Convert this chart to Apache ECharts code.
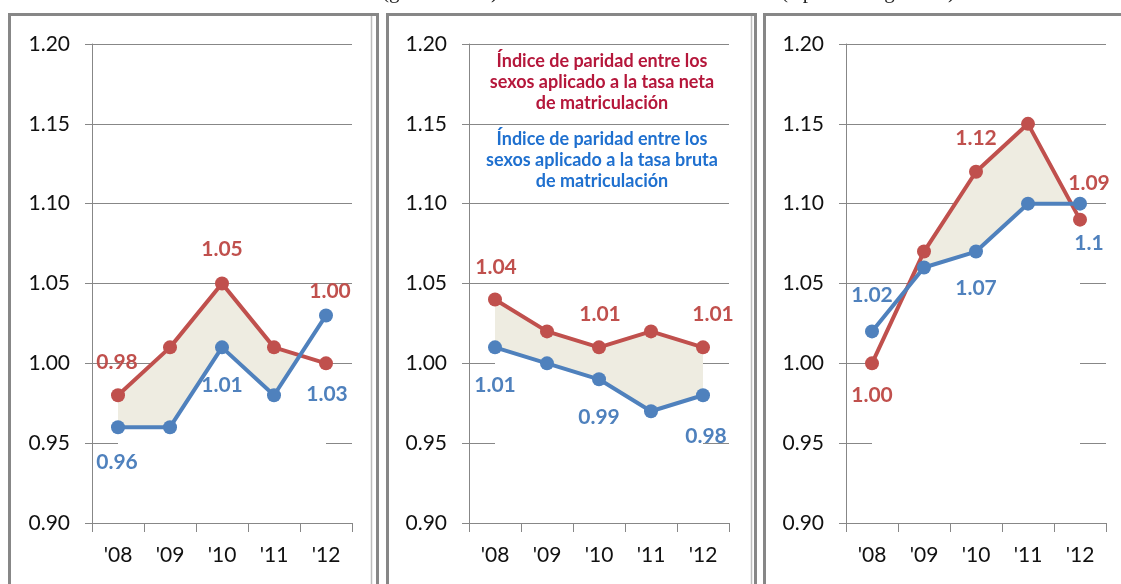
<!DOCTYPE html>
<html lang="es">
<head>
    <meta charset="UTF-8">
    <title>Índice de paridad</title>
    <style>
        html,body{margin:0;padding:0;background:#fff;}
        #mychart{width:1121px;height:584px;}
    </style>
</head>
<body>
    <div id="mychart"></div>
    <script src="https://cdn.jsdelivr.net/npm/echarts@6/dist/echarts.min.js"></script>
    <script>
        var years=["'08","'09","'10","'11","'12"]
        var yTicks=[0.90,0.95,1.00,1.05,1.10,1.15,1.20]
        // tasa neta (rojo) y tasa bruta (azul), un par por panel
        var netaA=[0.98,1.01,1.05,1.01,1.00]
        var brutaA=[0.96,0.96,1.01,0.98,1.03]
        var netaB=[1.04,1.02,1.01,1.02,1.01]
        var brutaB=[1.01,1.00,0.99,0.97,0.98]
        var netaC=[1.00,1.07,1.12,1.15,1.09]
        var brutaC=[1.02,1.06,1.07,1.10,1.10]
        // textos de las etiquetas tal como salen en la figura
        var netaLabA=['0.98','','1.05','','1.00']
        var brutaLabA=['0.96','','1.01','','1.03']
        var netaLabB=['1.04','','1.01','','1.01']
        var brutaLabB=['1.01','','0.99','','0.98']
        var netaLabC=['1.00','','1.12','','1.09']
        var brutaLabC=['1.02','','1.07','','1.1']
        var legendNeta='Índice de paridad entre los\nsexos aplicado a la tasa neta\nde matriculación'
        var legendBruta='Índice de paridad entre los\nsexos aplicado a la tasa bruta\nde matriculación'
        var titleB='(grados 1 a 6)'
        var titleC='(a partir del grado 7)'

        var RED='#C0504D', BLUE='#4F81BD', FILL='#EEECE1', GRID='#878787'
        var FONT='Lato'

        // desplazamiento de cada etiqueta respecto a su punto (px)
        var offNeta=[
            [[-1,-33],null,[0,-34],null,[4,-72]],
            [[1,-32],null,[1,-33],null,[10,-33]],
            [[0,32],null,[0,-33],null,[9,-36]]
        ]
        var offBruta=[
            [[-1,35],null,[0,38],null,[1,79]],
            [[0,38],null,[0,38],null,[3,41]],
            [[0,-36],null,[0,37],null,[9,40]]
        ]

        var panels=[
            {neta:netaA,bruta:brutaA,ln:netaLabA,lb:brutaLabA,left:92},
            {neta:netaB,bruta:brutaB,ln:netaLabB,lb:brutaLabB,left:469},
            {neta:netaC,bruta:brutaC,ln:netaLabC,lb:brutaLabC,left:846}
        ]

        var myChart=echarts.init(document.getElementById('mychart'))

        function labeled(vals,texts,offs,color){
            return vals.map(function(v,i){
                if(!texts[i]) return {value:v,label:{show:false}}
                return {value:v,label:{show:true,position:'inside',formatter:texts[i],offset:offs[i],
                    color:color,fontFamily:FONT,fontWeight:'bold',fontSize:21}}
            })
        }

        function gapItem(params,api){//relleno solo donde la neta va por encima de la bruta
            var i=api.value(0)
            var r0=api.coord([i,api.value(1)]), b0=api.coord([i,api.value(2)])
            var r1=api.coord([i+1,api.value(3)]), b1=api.coord([i+1,api.value(4)])
            var d0=b0[1]-r0[1], d1=b1[1]-r1[1]
            var pts=null
            if(d0>=0&&d1>=0){
                pts=[r0,r1,b1,b0]
            }else if(d0>=0&&d1<0){
                var t=d0/(d0-d1)
                pts=[r0,[r0[0]+t*(r1[0]-r0[0]),r0[1]+t*(r1[1]-r0[1])],b0]
            }else if(d0<0&&d1>=0){
                var t2=d0/(d0-d1)
                pts=[[r0[0]+t2*(r1[0]-r0[0]),r0[1]+t2*(r1[1]-r0[1])],r1,b1]
            }
            if(!pts) return null
            return {type:'polygon',shape:{points:pts},style:{fill:FILL}}
        }

        var grid=[],xAxis=[],yAxis=[],series=[]
        panels.forEach(function(p,k){
            grid.push({left:p.left,top:44,width:260,height:479})
            xAxis.push({
                type:'category',gridIndex:k,data:years,boundaryGap:true,
                axisLine:{lineStyle:{color:GRID,width:1}},
                axisTick:{show:true,length:9,lineStyle:{color:GRID}},
                axisLabel:{margin:22,color:'#111',fontFamily:FONT,fontSize:21},
                splitLine:{show:false}
            })
            yAxis.push({
                type:'value',gridIndex:k,min:yTicks[0],max:yTicks[yTicks.length-1],interval:0.05,
                axisLine:{show:true,lineStyle:{color:GRID,width:1}},
                axisTick:{show:true,length:7,lineStyle:{color:GRID}},
                axisLabel:{margin:22,color:'#111',fontFamily:FONT,fontSize:21,
                    formatter:function(v){return v.toFixed(2)}},
                splitLine:{show:true,lineStyle:{color:GRID,width:1}}
            })
            var segs=[]
            for(var i=0;i<p.neta.length-1;i++){
                segs.push([i,p.neta[i],p.bruta[i],p.neta[i+1],p.bruta[i+1]])
            }
            series.push({
                type:'line',xAxisIndex:k,yAxisIndex:k,data:p.bruta,symbol:'none',silent:true,
                lineStyle:{width:0},areaStyle:{color:'#fff',opacity:1,origin:'start'},z:1
            })
            series.push({
                type:'custom',xAxisIndex:k,yAxisIndex:k,data:segs,renderItem:gapItem,silent:true,
                encode:{x:0,y:[1,2,3,4]},z:2
            })
            series.push({
                type:'line',xAxisIndex:k,yAxisIndex:k,data:labeled(p.neta,p.ln,offNeta[k],RED),
                symbol:'circle',symbolSize:14,color:RED,lineStyle:{color:RED,width:4},z:3
            })
            series.push({
                type:'line',xAxisIndex:k,yAxisIndex:k,data:labeled(p.bruta,p.lb,offBruta[k],BLUE),
                symbol:'circle',symbolSize:14,color:BLUE,lineStyle:{color:BLUE,width:4},z:4
            })
        })

        var graphic=[
            {type:'rect',shape:{x:9.5,y:14.5,width:368,height:600},style:{fill:null,stroke:GRID,lineWidth:3},z:-1},
            {type:'line',shape:{x1:371.5,y1:16,x2:371.5,y2:584},style:{stroke:'#bdbdbd',lineWidth:1.5},z:-1},
            {type:'rect',shape:{x:387.5,y:14.5,width:368,height:600},style:{fill:null,stroke:GRID,lineWidth:3},z:-1},
            {type:'line',shape:{x1:751.5,y1:16,x2:751.5,y2:584},style:{stroke:'#bdbdbd',lineWidth:1.5},z:-1},
            {type:'rect',shape:{x:764.5,y:14.5,width:400,height:600},style:{fill:null,stroke:GRID,lineWidth:3},z:-1},
            {type:'text',x:440,y:-8,style:{text:titleB,font:'21px "Liberation Serif"',fill:'#222',
                textAlign:'center',textVerticalAlign:'middle'}},
            {type:'text',x:868,y:-8,style:{text:titleC,font:'21px "Liberation Serif"',fill:'#222',
                textAlign:'center',textVerticalAlign:'middle'}},
            {type:'text',x:602,y:51,style:{text:legendNeta,font:'bold 18px Lato',fill:'#B5173B',
                textAlign:'center',lineHeight:21}},
            {type:'text',x:602,y:129,style:{text:legendBruta,font:'bold 18px Lato',fill:'#1F70CF',
                textAlign:'center',lineHeight:21}}
        ]

        myChart.setOption({
            animation:false,
            grid:grid,
            xAxis:xAxis,
            yAxis:yAxis,
            series:series,
            graphic:graphic
        })
    </script>
</body>
</html>
